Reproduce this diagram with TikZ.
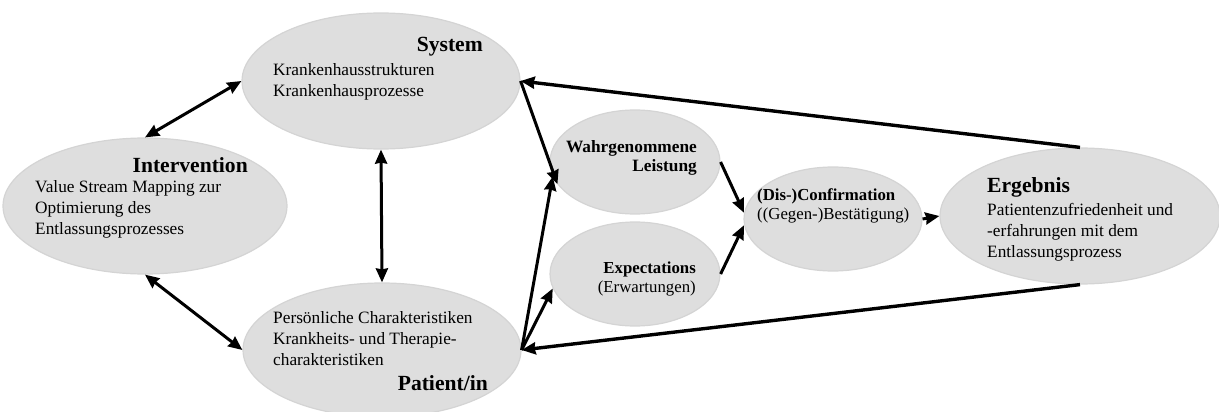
\documentclass[tikz,border=0pt]{standalone}
\usepackage{fontspec}
\setmainfont{Liberation Serif}
\usetikzlibrary{shapes.geometric, arrows.meta, positioning}

\begin{document}
\begin{tikzpicture}[x=1pt,y=-1pt,>={Stealth[length=14pt,width=12pt,inset=1pt]},blob/.style={ellipse,draw=black!17,fill=black!13,line width=1.2pt,inner sep=0pt},head/.style={inner sep=0pt,font=\fontsize{21.6}{24}\selectfont\bfseries},txt/.style={inner sep=0pt,align=left,font=\fontsize{17.3}{21}\selectfont},small/.style={inner sep=0pt,font=\fontsize{16.8}{19.5}\selectfont},link/.style={line width=3pt}]
  \useasboundingbox (0,0) rectangle (1219,412);
  % ellipses
  \node[blob,minimum width=278pt,minimum height=136pt] (sys) at (381,81) {};
  \node[blob,minimum width=284pt,minimum height=136pt] (int) at (145,206) {};
  \node[blob,minimum width=278pt,minimum height=134pt] (pat) at (382,350) {};
  \node[blob,minimum width=170pt,minimum height=104pt] (wahr) at (635,162) {};
  \node[blob,minimum width=170pt,minimum height=104pt] (exp) at (635,274) {};
  \node[blob,minimum width=178pt,minimum height=104pt] (conf) at (833,219) {};
  \node[blob,minimum width=280pt,minimum height=136pt] (erg) at (1080,216) {};
  % texts
  \node[head,anchor=east] (systit) at (483,47) {System};
  \node[txt,anchor=west] (systxt) at (273,82) {Krankenhausstrukturen\\Krankenhausprozesse};
  \node[head,anchor=east] (inttit) at (248,165) {Intervention};
  \node[txt,anchor=west] (inttxt) at (35,209) {Value Stream Mapping zur\\Optimierung des\\Entlassungsprozesses};
  \node[txt,anchor=west] (pattxt) at (273,339) {Persönliche Charakteristiken\\Krankheits- und Therapie-\\charakteristiken};
  \node[head,anchor=east] (pattit) at (488,383) {Patient/in};
  \node[small,align=right,anchor=east,font=\fontsize{17.3}{19.5}\selectfont\bfseries] (wahrtxt) at (697,158) {Wahrgenommene\\Leistung};
  \node[small,align=right,anchor=east] (exptxt) at (696,279) {\textbf{Expectations}\\(Erwartungen)};
  \node[small,align=left,anchor=west] (conftxt) at (757,206) {\textbf{(Dis-)Confirmation}\\((Gegen-)Bestätigung)};
  \node[head,anchor=west] (ergtit) at (987,187) {Ergebnis};
  \node[txt,anchor=west] (ergtxt) at (987,232) {Patientenzufriedenheit und\\-erfahrungen mit dem\\Entlassungsprozess};
  % connectors
  \draw[link,<->] (int.north) -- (sys.west);
  \draw[link,<->] (int.south) -- (pat.west);
  \draw[link,<->] (sys.south) -- (pat.north);
  \draw[link,->] (sys.east) -- (wahr.196);
  \draw[link,->] (pat.east) -- (wahr.190);
  \draw[link,->] (pat.east) -- (exp.190);
  \draw[link,->] (wahr.east) -- (conf.176);
  \draw[link,->] (exp.east) -- (conf.184);
  \draw[link,->] (conf.east) -- (erg.west);
  \draw[link,line width=3.4pt,->] (erg.north) -- (sys.east);
  \draw[link,line width=3.4pt,->] (erg.south) -- (pat.east);
\end{tikzpicture}
\end{document}
